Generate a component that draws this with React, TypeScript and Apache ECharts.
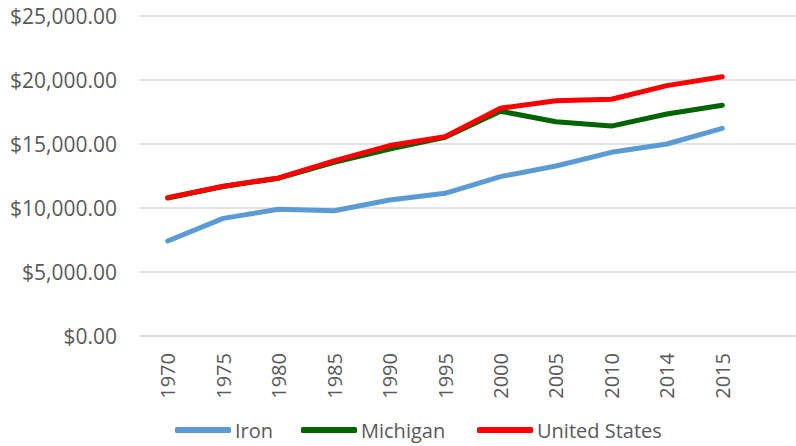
import React, { useEffect, useRef } from "react";
import * as echarts from "echarts";

const years = ["1970", "1975", "1980", "1985", "1990", "1995", "2000", "2005", "2010", "2014", "2015"];
const iron = [7420, 9190, 9900, 9790, 10620, 11150, 12450, 13280, 14350, 15000, 16220];
const michigan = [10780, 11680, 12330, 13560, 14610, 15520, 17560, 16740, 16400, 17340, 18020];
const unitedStates = [10810, 11700, 12350, 13680, 14880, 15570, 17800, 18380, 18500, 19560, 20260];
const yTicks = { min: 0, max: 25000, interval: 5000 };

const FONT = "'Open Sans', sans-serif";
const LABEL = "#595959";

export default function App() {
  const ref = useRef<HTMLDivElement>(null);
  useEffect(() => {
    if (!ref.current) return;
    const chart = echarts.init(ref.current, null, { renderer: "svg" });
    const legendBase = {
      top: 420,
      padding: 0,
      itemWidth: 56,
      itemHeight: 6,
      itemGap: 0,
      icon: "roundRect",
      textStyle: { fontFamily: FONT, fontSize: 20, color: LABEL, padding: [0, 0, 0, -1] },
    };
    chart.setOption({
      animation: false,
      backgroundColor: "#ffffff",
      grid: {
        left: 140,
        top: 16,
        bottom: 110,
        width: 665.5,
        containLabel: false,
        outerBoundsMode: "none",
      },
      legend: [
        { ...legendBase, left: 175, data: ["Iron"] },
        { ...legendBase, left: 301, data: ["Michigan"] },
        { ...legendBase, left: 477, data: ["United States"] },
      ],
      xAxis: {
        type: "category",
        data: [...years, ""],
        boundaryGap: true,
        axisLine: { show: true, lineStyle: { color: "#d9d9d9", width: 1.5 } },
        axisTick: { show: false },
        axisLabel: {
          rotate: 90,
          interval: 0,
          margin: 17,
          fontFamily: FONT,
          fontSize: 20,
          color: LABEL,
        },
      },
      yAxis: {
        type: "value",
        min: yTicks.min,
        max: yTicks.max,
        interval: yTicks.interval,
        axisLine: { show: false },
        axisTick: { show: false },
        splitLine: { lineStyle: { color: "#d9d9d9", width: 1.5 } },
        axisLabel: {
          margin: 23,
          fontFamily: FONT,
          fontSize: 21,
          color: LABEL,
          formatter: (v: number) =>
            "$" + v.toLocaleString("en-US", { minimumFractionDigits: 2, maximumFractionDigits: 2 }),
        },
      },
      series: [
        { name: "Iron", data: iron, color: "#5B9BD5" },
        { name: "Michigan", data: michigan, color: "#006400" },
        { name: "United States", data: unitedStates, color: "#FF0000" },
      ].map((s) => ({
        ...s,
        type: "line",
        showSymbol: false,
        symbol: "none",
        lineStyle: { width: 5, cap: "round", join: "round", color: s.color },
        itemStyle: { color: s.color },
      })),
    });
    return () => chart.dispose();
  }, []);
  return (
    <div
      ref={ref}
      style={{ position: "absolute", left: 0, top: 0, width: 796, height: 446, overflow: "hidden" }}
    />
  );
}
